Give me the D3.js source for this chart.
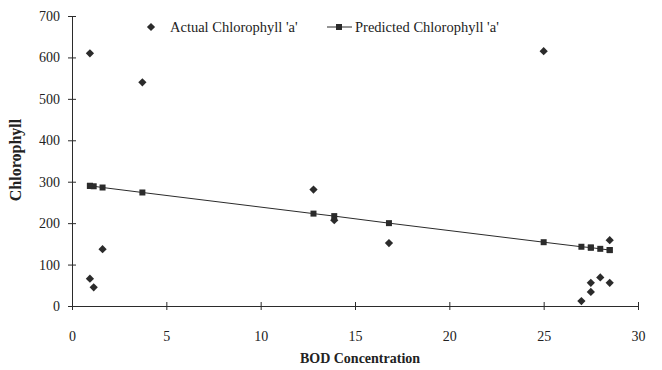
<!DOCTYPE html>
<html>
<head>
<meta charset="utf-8">
<script src="https://cdn.jsdelivr.net/npm/d3@7"></script>
<style>
  body { margin: 0; background: #fff; }
  text { font-family: "Liberation Serif", "Times New Roman", serif; fill: #222; }
</style>
</head>
<body>
<div id="chart"></div>
<script>
// BOD concentration for each sample
const bod = [0.95, 0.95, 1.15, 1.62, 3.73, 12.8, 13.9, 16.8, 25, 27, 27.5, 27.5, 28, 28.5, 28.5];
// measured chlorophyll 'a'
const actual = [610, 66, 45, 137, 540, 281, 207, 152, 615, 12, 34, 56, 69, 56, 159];
// model prediction
const predicted = [290, 290, 289, 286, 274, 223, 217, 200, 154, 143, 141, 141, 138, 135, 135];

const xTicks = [0, 5, 10, 15, 20, 25, 30];
const yTicks = [0, 100, 200, 300, 400, 500, 600, 700];

const width = 662, height = 370;
const margin = { top: 16, right: 24, bottom: 64, left: 72 };

const svg = d3.select("#chart")
    .append("svg")
    .attr("width", width)
    .attr("height", height);

const x = d3.scaleLinear()
    .domain([0, 30])
    .range([margin.left, width - margin.right]);

const y = d3.scaleLinear()
    .domain([0, 700])
    .range([height - margin.bottom, margin.top]);

const ink = "#2b2b2b";

// axes, ticks cross the axis line like in excel
svg.append("g")
    .attr("transform", `translate(0, ${y(0)})`)
    .call(d3.axisBottom(x).tickValues(xTicks).tickSize(4).tickSizeOuter(0).tickPadding(21))
    .call(g => g.selectAll(".tick line").attr("y1", -4).attr("stroke", ink))
    .call(g => g.select(".domain").attr("stroke", ink))
    .selectAll("text")
    .style("font-size", "14px")
    .attr("fill", "#222");

svg.append("g")
    .attr("transform", `translate(${x(0)}, 0)`)
    .call(d3.axisLeft(y).tickValues(yTicks).tickSize(4).tickSizeOuter(0).tickPadding(8))
    .call(g => g.selectAll(".tick line").attr("x1", 4).attr("stroke", ink))
    .call(g => g.select(".domain").attr("stroke", ink))
    .selectAll("text")
    .style("font-size", "14px")
    .attr("fill", "#222");

svg.append("text")
    .attr("x", 360)
    .attr("y", 363)
    .attr("text-anchor", "middle")
    .style("font-size", "14px")
    .style("font-weight", "bold")
    .text("BOD Concentration");

svg.append("text")
    .attr("transform", "translate(21, 160) rotate(-90)")
    .attr("text-anchor", "middle")
    .style("font-size", "16px")
    .style("font-weight", "bold")
    .text("Chlorophyll");

const rows = bod.map((b, i) => ({ bod: b, actual: actual[i], predicted: predicted[i] }));

// predicted line
svg.append("path")
    .datum(rows)
    .attr("fill", "none")
    .attr("stroke", ink)
    .attr("stroke-width", 1)
    .attr("d", d3.line().x(d => x(d.bod)).y(d => y(d.predicted)));

const diamond = d3.symbol().type(d3.symbolSquare).size(34);
const square = d3.symbol().type(d3.symbolSquare).size(36);

svg.append("g")
    .selectAll("path")
    .data(rows)
    .join("path")
    .attr("d", square)
    .attr("fill", ink)
    .attr("transform", d => `translate(${x(d.bod)}, ${y(d.predicted)})`);

svg.append("g")
    .selectAll("path")
    .data(rows)
    .join("path")
    .attr("d", diamond)
    .attr("fill", ink)
    .attr("transform", d => `translate(${x(d.bod)}, ${y(d.actual)}) rotate(45)`);

// legend
const legend = svg.append("g");

legend.append("path")
    .attr("d", diamond)
    .attr("fill", ink)
    .attr("transform", "translate(151, 27) rotate(45)");

legend.append("text")
    .attr("x", 170)
    .attr("y", 32)
    .style("font-size", "14.5px")
    .text("Actual Chlorophyll 'a'");

legend.append("line")
    .attr("x1", 327).attr("x2", 352)
    .attr("y1", 27).attr("y2", 27)
    .attr("stroke", ink);

legend.append("path")
    .attr("d", square)
    .attr("fill", ink)
    .attr("transform", "translate(339, 27)");

legend.append("text")
    .attr("x", 355)
    .attr("y", 32)
    .style("font-size", "14.5px")
    .text("Predicted Chlorophyll 'a'");
</script>
</body>
</html>
